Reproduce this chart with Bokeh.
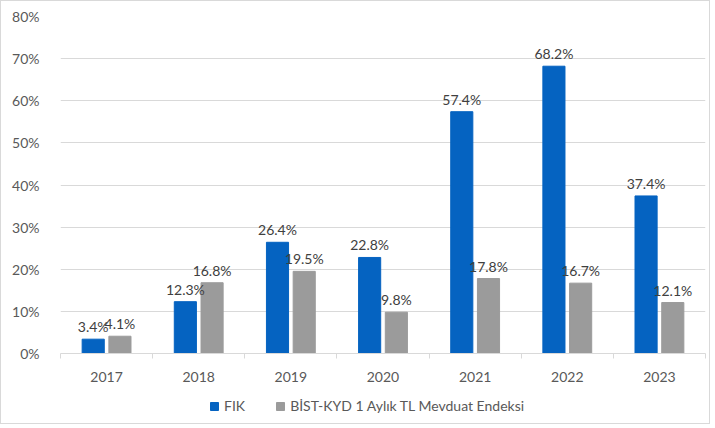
from bokeh.plotting import figure
from bokeh.layouts import column
from bokeh.models import (ColumnDataSource, FixedTicker, LabelSet, Legend, LegendItem,
                          PrintfTickFormatter, Range1d)
from bokeh.transform import dodge
from bokeh.core.properties import value
from bokeh.embed import file_html
from bokeh.resources import INLINE

years = ["2017", "2018", "2019", "2020", "2021", "2022", "2023"]
fik = [3.4, 12.3, 26.4, 22.8, 57.4, 68.2, 37.4]
bist = [4.1, 16.8, 19.5, 9.8, 17.8, 16.7, 12.1]
series_names = ["FIK", "BİST-KYD 1 Aylık TL Mevduat Endeksi"]
y_ticks = [0, 10, 20, 30, 40, 50, 60, 70, 80]

BLUE = "#0563c1"
GRAY = "#9b9b9b"
FONT = "Lato"
TXT = "#595959"
FS = "14px"

xs = list(range(1, len(years) + 1))
src = ColumnDataSource(dict(
    x=xs, fik=fik, bist=bist,
    fik_lbl=[f"{v:.1f}%" for v in fik],
    bist_lbl=[f"{v:.1f}%" for v in bist],
))

W = 708
p = figure(width=W, height=385, x_range=Range1d(0.5, len(years) + 0.5),
           y_range=Range1d(0, 80), output_backend="svg", toolbar_location=None,
           min_border_left=59, min_border_right=4, min_border_top=15, min_border_bottom=33)
p.outline_line_color = None
p.border_fill_color = "white"
p.background_fill_color = "white"

off = 0.145
w = 0.24
r1 = p.vbar(x=dodge("x", -off), top="fik", width=w, source=src, color=BLUE)
r2 = p.vbar(x=dodge("x", off), top="bist", width=w, source=src, color=GRAY)

for col, lbl, o in [("fik", "fik_lbl", -off), ("bist", "bist_lbl", off)]:
    ls = LabelSet(x=dodge("x", o), y=col, text=lbl, source=src, text_align="center",
                  text_baseline="bottom", y_offset=4, text_font=value(FONT),
                  text_font_size=FS, text_color="#404040")
    p.add_layout(ls)

p.xaxis.ticker = FixedTicker(ticks=xs, minor_ticks=[v + 0.5 for v in [0] + xs])
p.xaxis.major_label_overrides = {x: y for x, y in zip(xs, years)}
p.xaxis.major_tick_line_color = None
p.xaxis.minor_tick_line_color = "#d9d9d9"
p.xaxis.minor_tick_out = 5
p.xaxis.minor_tick_in = 0
p.xaxis.axis_line_color = "#d9d9d9"
p.xaxis.major_label_standoff = 12
p.xaxis.major_label_text_font = FONT
p.xaxis.major_label_text_font_size = FS
p.xaxis.major_label_text_color = TXT

p.yaxis.ticker = FixedTicker(ticks=y_ticks)
p.yaxis.formatter = PrintfTickFormatter(format="%d%%")
p.yaxis.axis_line_color = None
p.yaxis.major_tick_line_color = None
p.yaxis.minor_tick_line_color = None
p.yaxis.major_label_standoff = 15
p.yaxis.major_label_text_font = FONT
p.yaxis.major_label_text_font_size = FS
p.yaxis.major_label_text_color = TXT

p.xgrid.grid_line_color = None
p.ygrid.grid_line_color = "#d9d9d9"
p.ygrid.ticker = FixedTicker(ticks=y_ticks)

# legend strip below the chart
pl = figure(width=W, height=37, x_range=Range1d(0, 1), y_range=Range1d(1000, 1001),
            output_backend="svg", toolbar_location=None, min_border=0)
pl.axis.visible = False
pl.grid.visible = False
pl.outline_line_color = None
l1 = pl.vbar(x="x", top="fik", width=w, source=src, color=BLUE)
l2 = pl.vbar(x="x", top="bist", width=w, source=src, color=GRAY)
legend = Legend(items=[LegendItem(label=series_names[0], renderers=[l1]),
                       LegendItem(label=series_names[1], renderers=[l2])],
                orientation="horizontal", location=(149, 9),
                glyph_width=10, glyph_height=10, spacing=30, padding=4, margin=0,
                label_text_font=FONT, label_text_font_size=FS,
                label_text_color=TXT, border_line_color=None, label_standoff=5,
                background_fill_alpha=0)
pl.add_layout(legend)

lay = column(p, pl, spacing=0, styles={"border": "1px solid #d9d9d9"})
open("out.html", "w").write(file_html(lay, INLINE))
